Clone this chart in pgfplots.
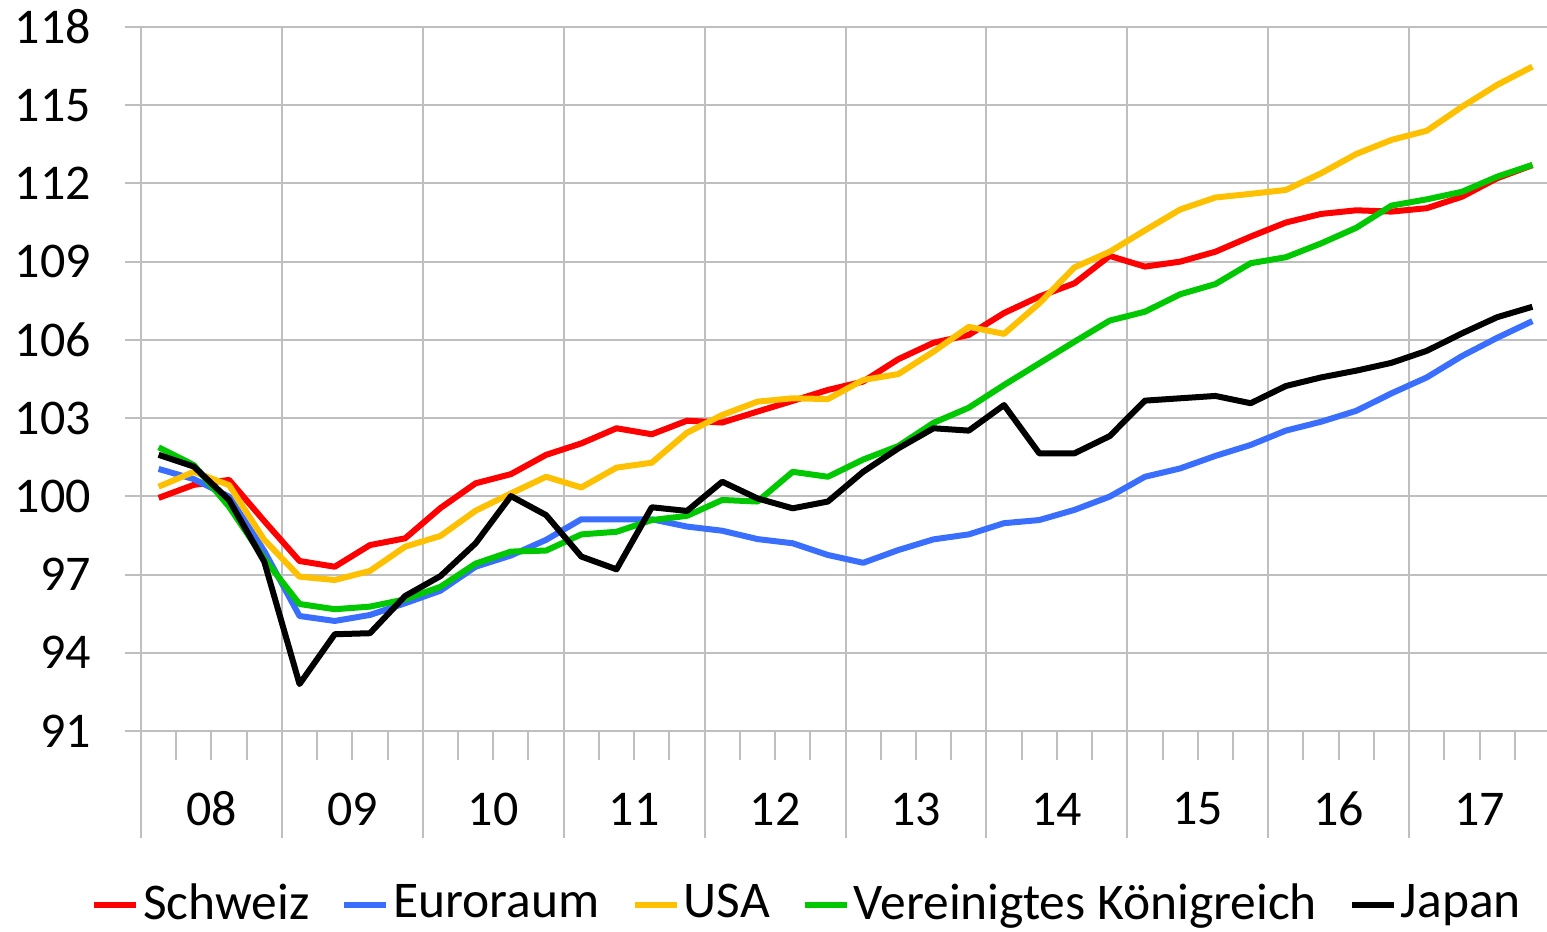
\documentclass[border=0pt]{standalone}
\usepackage{pgfplots}
\usepackage{pgfplotstable}
\pgfplotsset{compat=1.18}
\usepackage{fontspec}
\setmainfont{Carlito}
\definecolor{gridc}{RGB}{191,191,191}
\definecolor{chred}{RGB}{255,0,0}
\definecolor{ezblue}{RGB}{58,110,255}
\definecolor{usyel}{RGB}{255,192,0}
\definecolor{ukgreen}{RGB}{0,200,0}
\pgfplotstableread{
x ch ez us uk jp
0.5 99.94 101.05 100.37 101.88 101.59
1.5 100.44 100.66 100.94 101.20 101.14
2.5 100.63 99.99 100.43 99.60 99.86
3.5 99.05 97.90 98.33 97.60 97.49
4.5 97.52 95.41 96.92 95.87 92.80
5.5 97.30 95.22 96.79 95.67 94.71
6.5 98.13 95.45 97.14 95.77 94.75
7.5 98.39 95.90 98.07 96.05 96.18
8.5 99.55 96.38 98.48 96.53 96.94
9.5 100.50 97.30 99.45 97.42 98.20
10.5 100.85 97.73 100.11 97.88 100.01
11.5 101.59 98.33 100.75 97.92 99.28
12.5 102.03 99.12 100.34 98.54 97.69
13.5 102.61 99.12 101.10 98.64 97.20
14.5 102.38 99.12 101.29 99.09 99.58
15.5 102.90 98.84 102.44 99.25 99.44
16.5 102.83 98.68 103.12 99.86 100.56
17.5 103.25 98.36 103.63 99.80 99.92
18.5 103.66 98.20 103.76 100.94 99.54
19.5 104.08 97.75 103.73 100.75 99.80
20.5 104.40 97.45 104.46 101.41 100.94
21.5 105.26 97.94 104.69 101.93 101.84
22.5 105.89 98.35 105.55 102.82 102.61
23.5 106.19 98.54 106.50 103.40 102.52
24.5 107.03 98.97 106.23 104.27 103.50
25.5 107.66 99.09 107.40 105.10 101.65
26.5 108.17 99.48 108.78 105.93 101.65
27.5 109.22 99.99 109.38 106.74 102.31
28.5 108.81 100.75 110.20 107.08 103.67
29.5 109.00 101.07 111.00 107.75 103.76
30.5 109.38 101.55 111.46 108.14 103.85
31.5 109.96 101.97 111.60 108.94 103.57
32.5 110.50 102.52 111.75 109.17 104.23
33.5 110.83 102.86 112.39 109.70 104.56
34.5 110.97 103.28 113.13 110.30 104.82
35.5 110.92 103.95 113.67 111.15 105.12
36.5 111.05 104.56 114.02 111.39 105.58
37.5 111.49 105.38 114.94 111.68 106.25
38.5 112.20 106.08 115.78 112.26 106.87
39.5 112.70 106.72 116.48 112.71 107.27
}\data
\begin{document}
\begin{tikzpicture}
\useasboundingbox (-28.2pt,-40.2pt) rectangle (281.2pt,146.2pt);
\begin{axis}[
  at={(0,0)}, anchor=south west,
  scale only axis, width=281.8pt, height=140.8pt,
  xmin=0, xmax=40, ymin=91, ymax=118,
  ytick={91,94,...,118},
  xtick={0,4,...,40},
  x tick label as interval,
  xticklabels={08,09,10,11,12,13,14,15,16,17},
  minor x tick num=3,
  xtick pos=lower, ytick pos=left,
  tick align=outside,
  major tick length=21.4pt,
  minor tick length=5.8pt,
  xmajorgrids, ymajorgrids,
  grid style={gridc, line width=0.4pt},
  axis line style={gridc, line width=0.4pt},
  tick style={gridc, line width=0.4pt},
  ytick style={draw=none},
  font=\fontsize{10pt}{12pt}\selectfont,
  /pgf/number format/assume math mode=true,
  yticklabel style={anchor=east, xshift=14.9pt},
  xticklabel style={anchor=center, yshift=5.8pt},
  clip=false,
  legend style={at={(133.4pt,-34.8pt)}, anchor=center, draw=none, fill=none,
    legend columns=-1, font=\fontsize{10.3pt}{12pt}\selectfont,
    nodes={inner sep=0.8pt},
    /tikz/every even column/.append style={column sep=5.6pt},
    inner sep=0pt},
  legend image code/.code={\draw[#1, line width=1.2pt] (0pt,0pt) -- (8.4pt,0pt);},
  every axis plot/.append style={line width=1.2pt, line join=round, mark=none},
]
\addplot[chred] table[x=x,y=ch]{\data};
\addlegendentry{Schweiz}
\addplot[ezblue] table[x=x,y=ez]{\data};
\addlegendentry{Euroraum}
\addplot[usyel] table[x=x,y=us]{\data};
\addlegendentry{USA}
\addplot[ukgreen] table[x=x,y=uk]{\data};
\addlegendentry{Vereinigtes Königreich}
\addplot[black] table[x=x,y=jp]{\data};
\addlegendentry{Japan}
\pgfplotsinvokeforeach{91,94,...,118}{
  \draw[gridc, line width=0.4pt] (axis cs:0,#1) -- ++(-3.2pt,0pt);
}
\end{axis}
\end{tikzpicture}
\end{document}
